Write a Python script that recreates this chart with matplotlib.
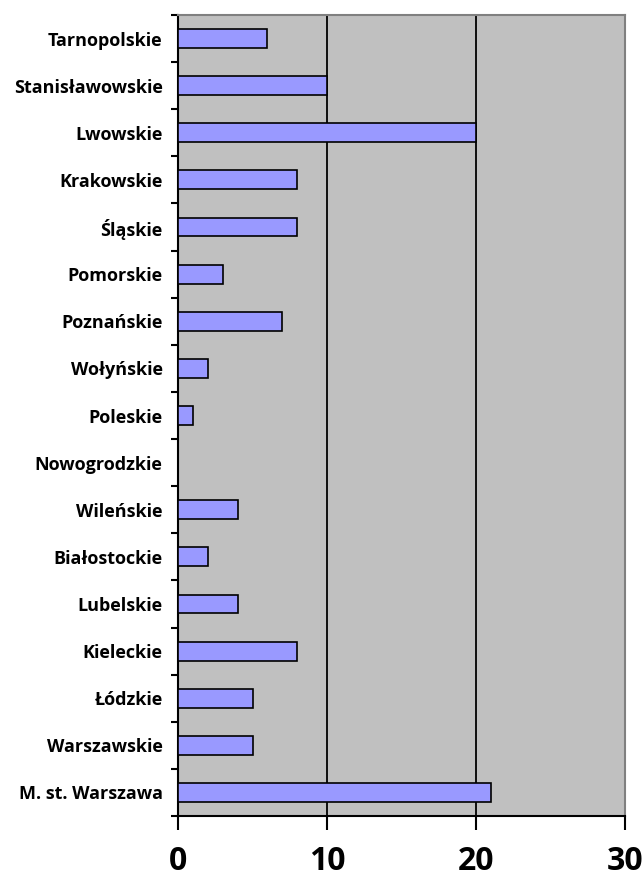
import matplotlib
matplotlib.use("Agg")
import matplotlib.pyplot as plt
import numpy as np

categories = ["Tarnopolskie", "Stanisławowskie", "Lwowskie", "Krakowskie", "Śląskie",
              "Pomorskie", "Poznańskie", "Wołyńskie", "Poleskie", "Nowogrodzkie",
              "Wileńskie", "Białostockie", "Lubelskie", "Kieleckie", "Łódzkie",
              "Warszawskie", "M. st. Warszawa"]
values = [6, 10, 20, 8, 8, 3, 7, 2, 1, 0, 4, 2, 4, 8, 5, 5, 21]
xticks = [0, 10, 20, 30]

plt.rcParams['font.family'] = ['Open Sans', 'DejaVu Sans']

fig = plt.figure(figsize=(6.43, 8.89), dpi=100)
ax = fig.add_axes([178/643, 1-816/889, (625-178)/643, (816-15)/889])
ax.set_facecolor('#C0C0C0')

n = len(categories)
pos = np.arange(n)
ax.barh(pos, values, height=0.4, color='#9999FF', edgecolor='black', linewidth=1.2, zorder=3)
ax.set_ylim(n - 0.5, -0.5)
ax.set_xlim(0, 30)

for x in xticks[1:-1]:
    ax.axvline(x, color='black', linewidth=1.3, zorder=1)

ax.set_xticks(xticks)
ax.set_xticklabels([str(t) for t in xticks], fontsize=23, fontweight='bold')
ax.tick_params(axis='x', direction='out', length=10, width=1.5, pad=11)

ax.set_yticks(pos)
ax.set_yticklabels(categories, fontsize=13, fontweight='bold')
ax.tick_params(axis='y', length=0, pad=11)
ax.set_yticks(np.arange(n + 1) - 0.5, minor=True)
ax.tick_params(axis='y', which='minor', direction='out', length=5, width=1.5)

for s in ['left', 'bottom']:
    ax.spines[s].set_linewidth(1.5)
    ax.spines[s].set_color('black')
for s in ['top', 'right']:
    ax.spines[s].set_linewidth(1.5)
    ax.spines[s].set_color('#808080')

fig.savefig("out.png", dpi=100)
